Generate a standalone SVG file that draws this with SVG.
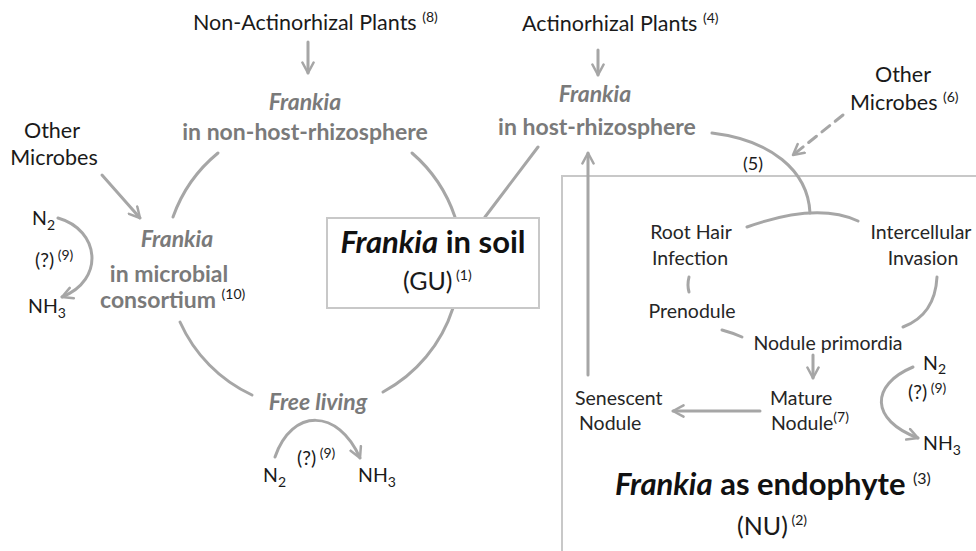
<svg xmlns="http://www.w3.org/2000/svg" width="976" height="551" viewBox="0 0 976 551">
<defs>
<marker id="ah" viewBox="0 0 10 10" refX="8.5" refY="5" markerWidth="14" markerHeight="14" markerUnits="userSpaceOnUse" orient="auto">
<path d="M1,1 L8.5,5 L1,9" fill="none" stroke="#a6a6a6" stroke-width="1.8" stroke-linecap="round" stroke-linejoin="round"/>
</marker>
<style>
text{font-family:Lato,"Open Sans","Liberation Sans",sans-serif;}
.lbl{font-size:21.5px;fill:#1a1a1a;}
.chem{font-size:19.5px;fill:#1a1a1a;}
.stg{font-size:19.5px;fill:#262626;}
.gry{font-size:23px;font-weight:bold;fill:#7a7a7a;}
.it{font-style:italic;}
.big{font-size:31px;font-weight:bold;fill:#111;}
.mid{font-size:25px;fill:#1a1a1a;}
.sup{font-size:14px;fill:#1a1a1a;font-weight:normal;font-style:normal;}
.sub{font-size:14px;}
.c{text-anchor:middle;}
.ln{fill:none;stroke:#a6a6a6;stroke-width:3;stroke-linecap:round;}
.ar{marker-end:url(#ah);}
.box{fill:#fff;stroke:#c8c8c8;stroke-width:2;}
</style>
</defs>
<rect width="976" height="551" fill="#fff"/>
<g id="endophyte-box"><rect class="box" x="562" y="176" width="430" height="390" fill="none"/></g>
<g id="connectors">
<path class="ln" d="M218,153 A146,146 0 0 0 173,217"/>
<path class="ln" d="M180,322 A146,146 0 0 0 252,395"/>
<path class="ln" d="M383,392 A146,146 0 0 0 453,308"/>
<path class="ln" d="M455,217 A146,146 0 0 0 412,153"/>
<path class="ln" d="M538,147 L485,217"/>
<path class="ln ar" d="M308,42 L308,73"/>
<path class="ln ar" d="M598,50 L598,75"/>
<path class="ln ar" d="M102,175 L140,218"/>
<path class="ln ar" d="M843,115 L793,155" stroke-dasharray="10,7"/>
<path class="ln" d="M712,133 C770,140 808,170 810,213"/>
<path class="ln" d="M747,227 Q817,202 858,221"/>
<path class="ln" d="M689,277 Q687,285 689,292"/>
<path class="ln" d="M722,330 Q733,333 742,337"/>
<path class="ln" d="M937,277 Q935,315 903,327"/>
<path class="ln ar" d="M813,355 L813,378"/>
<path class="ln ar" d="M760,411 L673,411"/>
<path class="ln ar" d="M588,375 L588,153"/>
<path class="ln ar" d="M913,367 C870,385 870,420 918,438"/>
<path class="ln ar" d="M58,218 C100,230 105,280 62,297"/>
<path class="ln ar" d="M275,457 C292,408 338,408 360,458"/>
</g>
<g id="non-actinorhizal"><text class="lbl" x="193" y="30">Non-Actinorhizal Plants <tspan class="sup" dy="-8">(8)</tspan></text></g>
<g id="actinorhizal"><text class="lbl" x="522" y="31">Actinorhizal Plants <tspan class="sup" dy="-8">(4)</tspan></text></g>
<g id="non-host"><text class="gry it c" x="305" y="110">Frankia</text><text class="gry c" x="305" y="140">in non-host-rhizosphere</text></g>
<g id="host"><text class="gry it c" x="595" y="102">Frankia</text><text class="gry c" x="597" y="135">in host-rhizosphere</text></g>
<g id="other-microbes-right"><text class="lbl c" x="903" y="82">Other</text><text class="lbl" x="850" y="110">Microbes <tspan class="sup" dy="-8">(6)</tspan></text></g>
<g id="label-5"><text class="chem c" x="753" y="170" style="font-size:18px">(5)</text></g>
<g id="other-microbes-left"><text class="lbl c" x="52" y="138">Other</text><text class="lbl c" x="54" y="165">Microbes</text></g>
<g id="n2-left"><text class="chem" x="32" y="225">N<tspan class="sub" dy="5">2</tspan></text><text class="chem" x="35" y="267">(?)<tspan class="sup" dy="-7"> (9)</tspan></text><text class="chem" x="28" y="313">NH<tspan class="sub" dy="5">3</tspan></text></g>
<g id="consortium"><text class="gry it c" x="177" y="247">Frankia</text><text class="gry c" x="169" y="282">in microbial</text><text class="gry" x="100" y="308">consortium <tspan class="sup" dy="-9">(10)</tspan></text></g>
<g id="soil"><rect class="box" x="327" y="218" width="212" height="90"/><text class="big c" x="433" y="253"><tspan class="it">Frankia</tspan> in soil</text><text class="mid" x="403" y="290">(GU)<tspan class="sup" dy="-10"> (1)</tspan></text></g>
<g id="free-living"><text class="gry it c" x="318" y="410">Free living</text><text class="chem" x="297" y="465">(?)<tspan class="sup" dy="-7"> (9)</tspan></text><text class="chem" x="263" y="482">N<tspan class="sub" dy="5">2</tspan></text><text class="chem" x="358" y="482">NH<tspan class="sub" dy="5">3</tspan></text></g>
<g id="root-hair"><text class="stg c" x="691" y="239">Root Hair</text><text class="stg c" x="690" y="265">Infection</text></g>
<g id="intercellular"><text class="stg c" x="921" y="239">Intercellular</text><text class="stg c" x="923" y="265">Invasion</text></g>
<g id="prenodule"><text class="stg c" x="692" y="318">Prenodule</text></g>
<g id="primordia"><text class="stg c" x="828" y="350">Nodule primordia</text></g>
<g id="mature"><text class="stg" x="770" y="405">Mature</text><text class="stg" x="771" y="430">Nodule<tspan class="sup" dy="-8">(7)</tspan></text></g>
<g id="senescent"><text class="stg" x="575" y="405">Senescent</text><text class="stg" x="579" y="430">Nodule</text></g>
<g id="n2-right"><text class="chem" x="923" y="370">N<tspan class="sub" dy="4">2</tspan></text><text class="chem" x="908" y="399">(?)<tspan class="sup" dy="-6"> (9)</tspan></text><text class="chem" x="923" y="450">NH<tspan class="sub" dy="5">3</tspan></text></g>
<g id="endophyte"><text class="big" x="615" y="495"><tspan class="it">Frankia</tspan> as endophyte <tspan class="sup" dy="-11" style="font-size:16px">(3)</tspan></text><text class="mid" x="737" y="535">(NU)<tspan class="sup" dy="-10"> (2)</tspan></text></g>
</svg>
